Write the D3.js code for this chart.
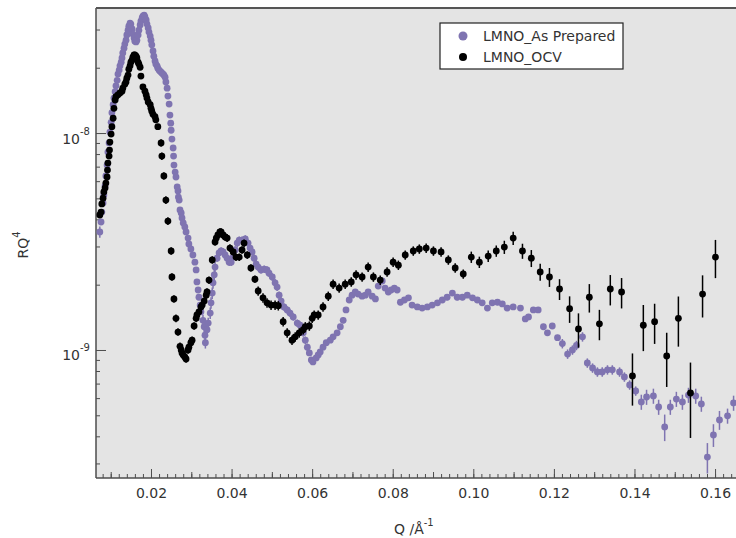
<!DOCTYPE html>
<html>
<head>
<meta charset="utf-8">
<script src="https://cdn.jsdelivr.net/npm/d3@7"></script>
<style>
  body { margin: 0; background: #fff; }
  text { font-family: "DejaVu Sans", sans-serif; fill: #333; }
</style>
</head>
<body>
<div id="chart"></div>
<script>
// LMNO_As Prepared : Q (1/A), RQ^4 (x 1e-9), error (%)
const qA = [
  0.0073,0.0076,0.0078,0.0081,0.0083,0.0086,0.0088,0.0091,0.0093,0.0096,
  0.0098,0.0101,0.0103,0.0106,0.0108,0.0111,0.0113,0.0116,0.0118,0.0121,
  0.0123,0.0126,0.0128,0.0130,0.0133,0.0135,0.0138,0.0140,0.0143,0.0145,
  0.0148,0.0150,0.0153,0.0155,0.0158,0.0160,0.0163,0.0165,0.0168,0.0170,
  0.0173,0.0175,0.0178,0.0180,0.0183,0.0185,0.0188,0.0190,0.0193,0.0195,
  0.0198,0.0200,0.0202,0.0205,0.0207,0.0210,0.0212,0.0215,0.0217,0.0220,
  0.0222,0.0225,0.0227,0.0230,0.0232,0.0235,0.0237,0.0240,0.0242,0.0245,
  0.0247,0.0249,0.0250,0.0252,0.0255,0.0256,0.0257,0.0260,0.0262,0.0265,
  0.0267,0.0268,0.0270,0.0272,0.0275,0.0277,0.0280,0.0284,0.0287,0.0292,
  0.0294,0.0299,0.0304,0.0309,0.0312,0.0314,0.0317,0.0319,0.0322,0.0324,
  0.0329,0.0332,0.0334,0.0335,0.0339,0.0342,0.0347,0.0349,0.0352,0.0354,
  0.0357,0.0359,0.0364,0.0369,0.0374,0.0379,0.0384,0.0389,0.0394,0.0399,
  0.0404,0.0409,0.0414,0.0419,0.0426,0.0434,0.0441,0.0446,0.0451,0.0456,
  0.0461,0.0466,0.0473,0.0481,0.0488,0.0493,0.0501,0.0508,0.0513,0.0518,
  0.0523,0.0530,0.0538,0.0545,0.0553,0.0563,0.0570,0.0578,0.0583,0.0588,
  0.0593,0.0598,0.0602,0.0610,0.0615,0.0620,0.0627,0.0635,0.0645,0.0652,
  0.0662,0.0670,0.0677,0.0684,0.0692,0.0699,0.0707,0.0714,0.0724,0.0732,
  0.0739,0.0749,0.0757,0.0764,0.0774,0.0781,0.0789,0.0796,0.0804,0.0811,
  0.0819,0.0829,0.0839,0.0848,0.0861,0.0873,0.0886,0.0898,0.0911,0.0923,
  0.0935,0.0948,0.0960,0.0973,0.0985,0.0998,0.1010,0.1022,0.1035,0.1047,
  0.1060,0.1072,0.1084,0.1099,0.1117,0.1129,0.1137,0.1149,0.1161,0.1174,
  0.1184,0.1196,0.1209,0.1221,0.1234,0.1246,0.1256,0.1271,0.1283,0.1296,
  0.1308,0.1320,0.1333,0.1345,0.1363,0.1375,0.1388,0.1403,0.1417,0.1430,
  0.1447,0.1460,0.1475,0.1489,0.1504,0.1519,0.1534,0.1552,0.1566,0.1581,
  0.1596,0.1611,0.1631,0.1646
];
const rA = [
  3.50,3.89,4.32,4.76,5.18,5.70,6.34,7.12,8.17,9.00,
  10.1,11.2,12.4,13.5,14.5,15.5,16.5,17.5,18.7,19.5,
  20.4,21.2,22.2,23.4,24.6,25.7,26.8,28.3,29.8,31.1,
  32.1,31.8,30.2,28.6,27.4,26.5,26.3,26.8,28.3,29.8,
  31.5,32.8,33.9,34.6,34.9,34.3,33.2,31.8,30.5,29.2,
  28.0,26.8,25.5,23.9,22.6,21.5,20.8,20.4,19.9,19.5,
  19.3,19.1,18.9,18.7,18.5,18.1,17.2,16.1,14.8,13.6,
  12.1,11.1,10.3,9.38,8.53,7.83,7.12,6.61,6.27,5.64,
  5.41,5.07,4.91,4.42,4.28,4.06,3.85,3.69,3.50,3.28,
  3.08,2.92,2.74,2.54,2.34,2.06,1.89,1.75,1.61,1.50,
  1.37,1.28,1.17,1.08,1.24,1.33,1.48,1.65,1.83,2.04,
  2.22,2.41,2.65,2.80,2.86,2.83,2.74,2.65,2.54,2.54,
  2.68,2.89,3.11,3.21,3.21,3.25,3.11,2.95,2.83,2.65,
  2.49,2.41,2.34,2.36,2.34,2.26,2.17,2.04,1.95,1.79,
  1.68,1.58,1.53,1.48,1.42,1.33,1.30,1.20,1.11,1.03,
  0.969,0.90,0.881,0.919,0.948,0.979,1.03,1.08,1.11,1.15,
  1.20,1.28,1.37,1.53,1.70,1.79,1.85,1.81,1.77,1.79,
  1.85,1.77,1.72,1.97,2.08,1.93,1.85,1.89,1.93,1.89,
  1.66,1.70,1.74,1.61,1.58,1.56,1.58,1.61,1.65,1.70,
  1.75,1.83,1.75,1.75,1.79,1.74,1.70,1.65,1.56,1.65,
  1.66,1.63,1.56,1.58,1.56,1.39,1.42,1.53,1.53,1.28,
  1.20,1.29,1.14,1.07,0.958,1.00,1.05,1.15,0.871,0.826,
  0.792,0.792,0.81,0.81,0.792,0.751,0.690,0.647,0.576,0.607,
  0.614,0.546,0.442,0.546,0.594,0.576,0.620,0.614,0.564,0.321,
  0.406,0.476,0.497,0.570
];
const eA = [
  6,2,2,2,2,2,2,2,2,2, 2,2,2,2,2,2,2,2,2,2,
  2,2,2,2,2,2,2,2,2,2, 2,2,2,2,2,2,2,2,2,2,
  2,2,2,2,2,2,2,2,2,2, 2,2,2,2,2,2,2,2,2,2,
  2,2,2,2,2,2,2,2,2,2, 2,2,2,2,2,2,2,2,2,2,
  2,2,2,2,2,2,2,2,2,2, 2,2,2,2,2,2,2,2,2,2,
  6,6,6,6,6,6,6,6,6,6, 6,6,4,4,4,4,4,4,4,4,
  4,4,4,4,4,4,4,4,4,4, 4,4,4,4,4,4,4,4,4,4,
  4,4,4,4,4,4,4,4,4,4, 3,3,3,3,3,3,3,3,3,3,
  3,3,3,3,3,3,3,3,3,3, 3,3,3,3,3,3,3,3,3,3,
  3,3,3,3,3,3,3,3,3,3, 3,3,3,3,3,3,3,3,3,3,
  3,3,3,3,3,3,3,3,3,3, 3,3,3,5,5,5,5,5,5,5,
  5,5,5,5,5,5,5,5,8,8, 8,8,14,8,8,8,8,8,8,16,
  12,10,8,8
];

// LMNO_OCV
const qB = [
  0.0073,0.0076,0.0078,0.0081,0.0083,0.0086,0.0088,0.0091,0.0092,0.0093,
  0.0096,0.0097,0.0098,0.0101,0.0103,0.0106,0.0108,0.0111,0.0113,0.0118,
  0.0123,0.0128,0.0130,0.0135,0.0138,0.0140,0.0143,0.0145,0.0148,0.0150,
  0.0153,0.0155,0.0158,0.0160,0.0163,0.0165,0.0168,0.0170,0.0173,0.0175,
  0.0180,0.0185,0.0188,0.0190,0.0193,0.0198,0.0200,0.0202,0.0205,0.0210,
  0.0212,0.0217,0.0225,0.0227,0.0232,0.0237,0.0242,0.0250,0.0252,0.0257,
  0.0262,0.0267,0.0272,0.0275,0.0277,0.0280,0.0284,0.0287,0.0292,0.0294,
  0.0299,0.0302,0.0307,0.0312,0.0314,0.0319,0.0324,0.0327,0.0332,0.0337,
  0.0339,0.0344,0.0352,0.0359,0.0362,0.0366,0.0371,0.0374,0.0379,0.0384,
  0.0389,0.0396,0.0404,0.0411,0.0419,0.0426,0.0431,0.0439,0.0448,0.0458,
  0.0466,0.0478,0.0488,0.0498,0.0508,0.0516,0.0528,0.0538,0.0550,0.0558,
  0.0568,0.0578,0.0583,0.0593,0.0600,0.0605,0.0615,0.0627,0.0640,0.0652,
  0.0667,0.0682,0.0697,0.0709,0.0724,0.0739,0.0752,0.0769,0.0786,0.0801,
  0.0814,0.0831,0.0851,0.0866,0.0883,0.0901,0.0920,0.0938,0.0955,0.0975,
  0.0995,0.1015,0.1037,0.1057,0.1077,0.1099,0.1122,0.1144,0.1166,0.1189,
  0.1214,0.1239,0.1261,0.1288,0.1313,0.1340,0.1368,0.1395,0.1422,0.1450,
  0.1480,0.1509,0.1539,0.1569,0.1601
];
const rB = [
  4.19,4.32,4.71,5.01,5.35,5.58,5.88,6.27,6.75,7.27,
  7.83,8.35,9.09,9.89,10.7,11.7,13.0,14.2,14.7,15.0,
  15.3,15.6,16.1,16.8,17.2,17.9,18.5,19.7,20.4,21.2,
  21.7,22.4,22.9,22.9,22.6,22.2,21.2,20.8,20.1,18.3,
  16.3,15.6,15.0,14.5,13.9,13.5,13.0,12.6,12.2,11.9,
  11.5,10.7,9.00,7.83,6.34,4.91,3.93,2.86,2.17,1.72,
  1.40,1.21,1.04,1.00,0.969,0.948,0.929,0.909,1.00,1.03,
  1.08,1.11,1.29,1.40,1.45,1.50,1.58,1.61,1.68,1.79,
  1.85,2.10,2.60,3.15,3.28,3.39,3.50,3.50,3.39,3.32,
  3.28,2.95,2.83,2.68,2.68,2.89,3.11,2.74,2.39,2.12,
  1.87,1.74,1.65,1.61,1.61,1.60,1.35,1.20,1.11,1.15,
  1.20,1.24,1.28,1.29,1.40,1.45,1.45,1.58,1.77,2.01,
  1.93,2.01,2.06,2.22,2.17,2.41,2.17,2.10,2.29,2.54,
  2.46,2.74,2.86,2.92,2.95,2.86,2.83,2.60,2.39,2.24,
  2.68,2.54,2.71,2.86,2.98,3.28,2.86,2.65,2.29,2.17,
  1.91,1.55,1.25,1.75,1.32,1.91,1.85,0.759,1.30,1.35,
  0.938,1.40,0.634,1.81,2.68
];
const eB = [
  2,2,2,2,2,2,2,2,2,2, 2,2,2,2,2,2,2,2,2,2,
  2,2,2,2,2,2,2,2,2,2, 2,2,2,2,2,2,2,2,2,2,
  2,2,2,2,2,2,2,2,2,2, 2,2,4,4,4,4,4,4,4,4,
  4,4,4,4,4,4,4,4,4,4, 4,4,4,4,4,4,4,4,4,4,
  4,4,4,4,4,4,4,4,4,4, 4,4,4,4,4,4,4,4,4,4,
  5,5,5,5,5,5,5,5,5,5, 5,5,5,5,5,5,5,5,5,5,
  5,5,5,5,5,5,5,5,5,5, 5,5,5,5,5,5,5,5,5,5,
  6,6,6,6,7,7,8,9,9,10, 11,14,18,15,16,16,16,27,24,21,
  28,26,38,22,20
];

const xMajor = [0.02, 0.04, 0.06, 0.08, 0.10, 0.12, 0.14, 0.16];
const yMajor = [1e-9, 1e-8];
const seriesNames = ["LMNO_As Prepared", "LMNO_OCV"];
const seriesColors = ["#7f74b1", "#000000"];

const W = 736, H = 538;
const pLeft = 96, pTop = 8, pBottom = 478, pRight = 736;

const svg = d3.select("#chart").append("svg")
  .attr("width", W).attr("height", H);

svg.append("rect")
  .attr("x", pLeft).attr("y", pTop)
  .attr("width", pRight - pLeft).attr("height", pBottom - pTop)
  .attr("fill", "#e4e4e4");

const x = d3.scaleLinear().domain([0.00635, 0.1652]).range([pLeft, pRight]);
const y = d3.scaleLog().domain([2.57e-10, 3.77e-8]).range([pBottom, pTop]);

svg.append("clipPath").attr("id", "clip")
  .append("rect").attr("x", pLeft).attr("y", pTop)
  .attr("width", pRight - pLeft).attr("height", pBottom - pTop);

// ticks
const xMinor = d3.range(8, 166, 2).map(d => d / 1000);
const xMid = d3.range(1, 17, 2).map(d => d / 100);

function cleanAxis(g) {
  g.select(".domain").remove();
  g.selectAll(".tick line").attr("stroke", "#4d4d4d");
}

svg.append("g").attr("transform", `translate(0,${pBottom})`)
  .call(d3.axisBottom(x).tickValues(xMinor).tickSize(-4).tickFormat(""))
  .call(cleanAxis);
svg.append("g").attr("transform", `translate(0,${pBottom})`)
  .call(d3.axisBottom(x).tickValues(xMid).tickSize(-6).tickFormat(""))
  .call(cleanAxis);
svg.append("g").attr("transform", `translate(0,${pBottom})`)
  .call(d3.axisBottom(x).tickValues(xMajor).tickSize(-9).tickPadding(10)
    .tickFormat(d3.format(".2f")))
  .call(cleanAxis)
  .call(g => g.selectAll("text").attr("font-size", 14).attr("fill", "#333")
    .attr("font-family", "DejaVu Sans"));

const yMinor = [];
[1e-10, 1e-9, 1e-8].forEach(b => d3.range(2, 10).forEach(k => {
  const v = b * k;
  if (v > y.domain()[0] && v < y.domain()[1]) yMinor.push(v);
}));

svg.append("g").attr("transform", `translate(${pLeft},0)`)
  .call(d3.axisLeft(y).tickValues(yMinor).tickSize(-4).tickFormat(""))
  .call(cleanAxis);
svg.append("g").attr("transform", `translate(${pLeft},0)`)
  .call(d3.axisLeft(y).tickValues(yMajor).tickSize(-10).tickPadding(6).tickFormat(""))
  .call(cleanAxis)
  .call(g => g.selectAll(".tick text").each(function (d) {
    const t = d3.select(this).attr("dy", null).attr("y", 10)
      .attr("font-size", 14).attr("fill", "#333").attr("font-family", "DejaVu Sans");
    t.append("tspan").text("10");
    t.append("tspan").attr("dy", -9).attr("font-size", 10)
      .text(Math.round(Math.log10(d)).toString());
  }));

// frame
svg.append("line").attr("x1", pLeft).attr("x2", pLeft).attr("y1", pTop).attr("y2", pBottom)
  .attr("stroke", "#4d4d4d").attr("stroke-width", 1.5);
svg.append("line").attr("x1", pLeft).attr("x2", pRight).attr("y1", pBottom).attr("y2", pBottom)
  .attr("stroke", "#4d4d4d").attr("stroke-width", 1.5);
svg.append("line").attr("x1", pLeft).attr("x2", pRight).attr("y1", pTop).attr("y2", pTop)
  .attr("stroke", "#555").attr("stroke-width", 2);

// data
const plot = svg.append("g").attr("clip-path", "url(#clip)");

function drawSeries(qs, rs, es, color) {
  const pts = qs.map((q, i) => ({ q: q, r: rs[i] * 1e-9, e: es[i] / 100 }));
  const g = plot.append("g");
  g.selectAll("line").data(pts).enter().append("line")
    .attr("x1", d => x(d.q)).attr("x2", d => x(d.q))
    .attr("y1", d => y(d.r * (1 + d.e)))
    .attr("y2", d => y(Math.max(d.r * (1 - d.e), 1e-12)))
    .attr("stroke", color).attr("stroke-width", 1.5);
  g.selectAll("circle").data(pts).enter().append("circle")
    .attr("cx", d => x(d.q)).attr("cy", d => y(d.r))
    .attr("r", 3.4).attr("fill", color);
}

drawSeries(qA, rA, eA, seriesColors[0]);
drawSeries(qB, rB, eB, seriesColors[1]);

// legend
const lg = svg.append("g");
lg.append("rect").attr("x", 440).attr("y", 23).attr("width", 183).attr("height", 46)
  .attr("fill", "#fff").attr("stroke", "#222").attr("stroke-width", 1.2);
seriesNames.forEach((name, i) => {
  const cy = 36 + i * 21;
  lg.append("circle").attr("cx", 463).attr("cy", cy).attr("r", i === 0 ? 4.5 : 4)
    .attr("fill", seriesColors[i]);
  lg.append("text").attr("x", 483).attr("y", cy + 5).attr("font-size", 14).text(name);
});

// axis titles
const xt = svg.append("text").attr("x", 394).attr("y", 534).attr("font-size", 14);
xt.append("tspan").text("Q /Å");
xt.append("tspan").attr("dy", -8).attr("font-size", 10).text("-1");

const yt = svg.append("text").attr("transform", "translate(28,245) rotate(-90)")
  .attr("text-anchor", "middle").attr("font-size", 14);
yt.append("tspan").text("RQ");
yt.append("tspan").attr("dy", -8).attr("font-size", 10).text("4");
</script>
</body>
</html>
